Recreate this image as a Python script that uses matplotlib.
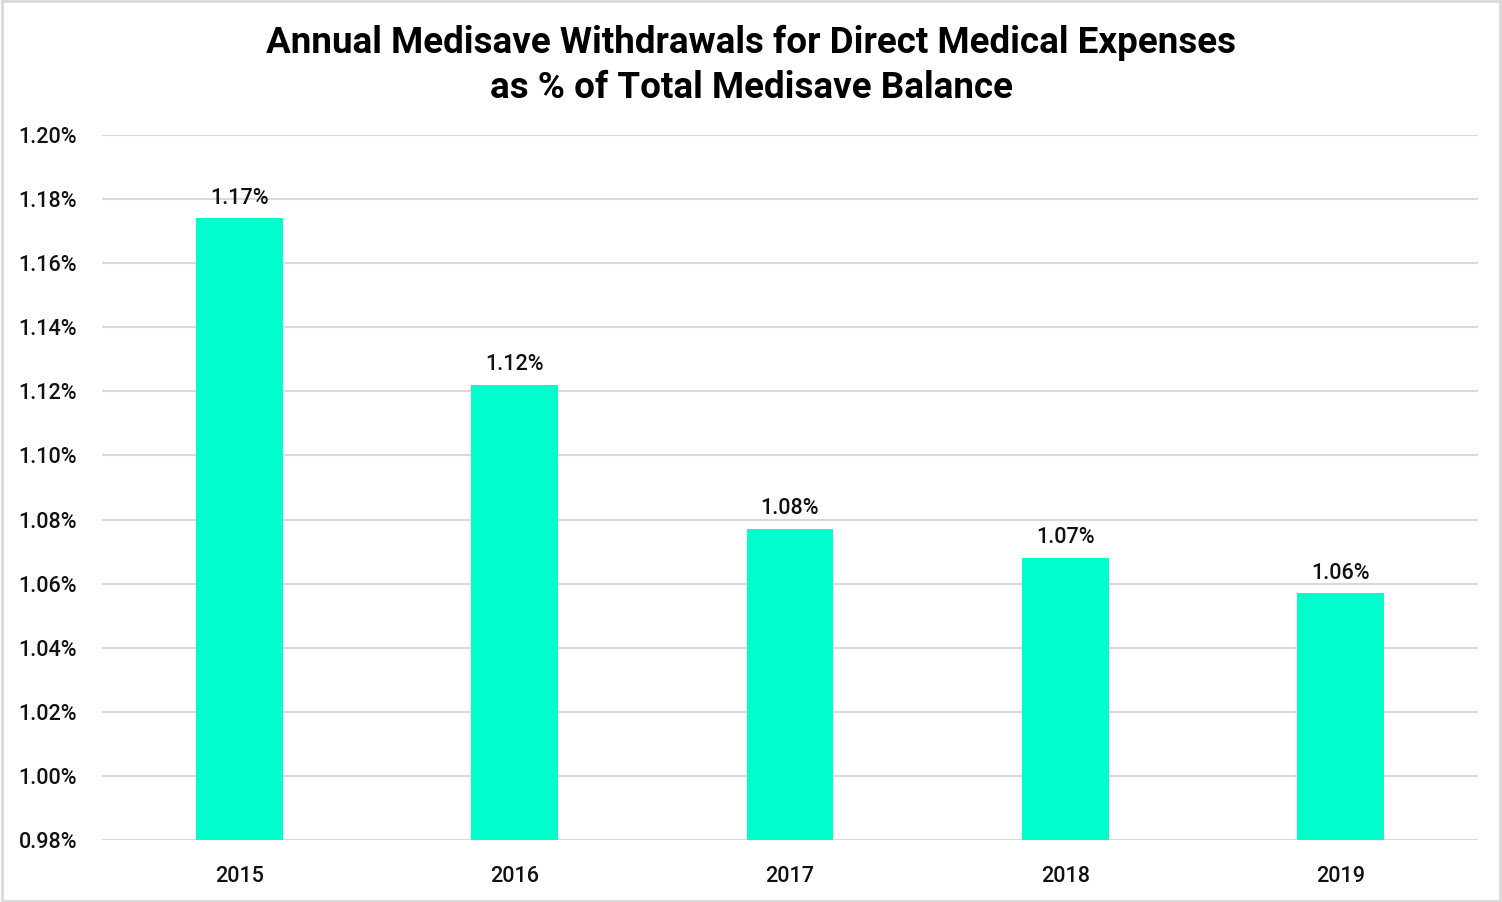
import matplotlib.pyplot as plt
from matplotlib.patches import Rectangle
from matplotlib.ticker import FuncFormatter

# Medisave withdrawals as % of total balance
years = ['2015', '2016', '2017', '2018', '2019']
pct = [1.174, 1.122, 1.077, 1.068, 1.057]
yticks = [0.98, 1.00, 1.02, 1.04, 1.06, 1.08, 1.10, 1.12, 1.14, 1.16, 1.18, 1.20]

plt.rcParams['font.family'] = ['Roboto', 'DejaVu Sans']

fig = plt.figure(figsize=(15.02, 9.02), dpi=100)
ax = fig.add_axes([0.0679, 0.0687, 0.9161, 0.7816])

x = range(len(years))
bars = ax.bar(x, pct, width=0.315, color='#00FFCC', zorder=3)
for b, v in zip(bars, pct):
    ax.annotate(f'{v:.2f}%', (b.get_x() + b.get_width() / 2, v),
                xytext=(0, 7), textcoords='offset points',
                ha='center', va='bottom', fontsize=15.5, fontweight='medium',
                color='#111111')

ax.set_xlim(-0.5, len(years) - 0.5)
ax.set_ylim(0.98, 1.20)
ax.set_xticks(list(x))
ax.set_xticklabels(years)
ax.set_yticks(yticks)
ax.yaxis.set_major_formatter(FuncFormatter(lambda v, p: f'{v:.2f}%'))
ax.tick_params(axis='both', length=0, labelsize=15.5, colors='#111111')
for lbl in ax.get_xticklabels() + ax.get_yticklabels():
    lbl.set_fontweight('medium')
ax.tick_params(axis='y', pad=18)
ax.tick_params(axis='x', pad=19)
ax.grid(axis='y', color='#D9D9D9', linewidth=1.5, zorder=0)
for s in ax.spines.values():
    s.set_visible(False)

fig.text(0.5, 0.972, 'Annual Medisave Withdrawals for Direct Medical Expenses\nas % of Total Medisave Balance',
         ha='center', va='top', fontsize=26.5, fontweight='bold', linespacing=1.32)

fig.patches.append(Rectangle((0.001, 0.001), 0.998, 0.998, transform=fig.transFigure,
                             fill=False, edgecolor='#D9D9D9', linewidth=2))

fig.savefig('out.png', dpi=100)
